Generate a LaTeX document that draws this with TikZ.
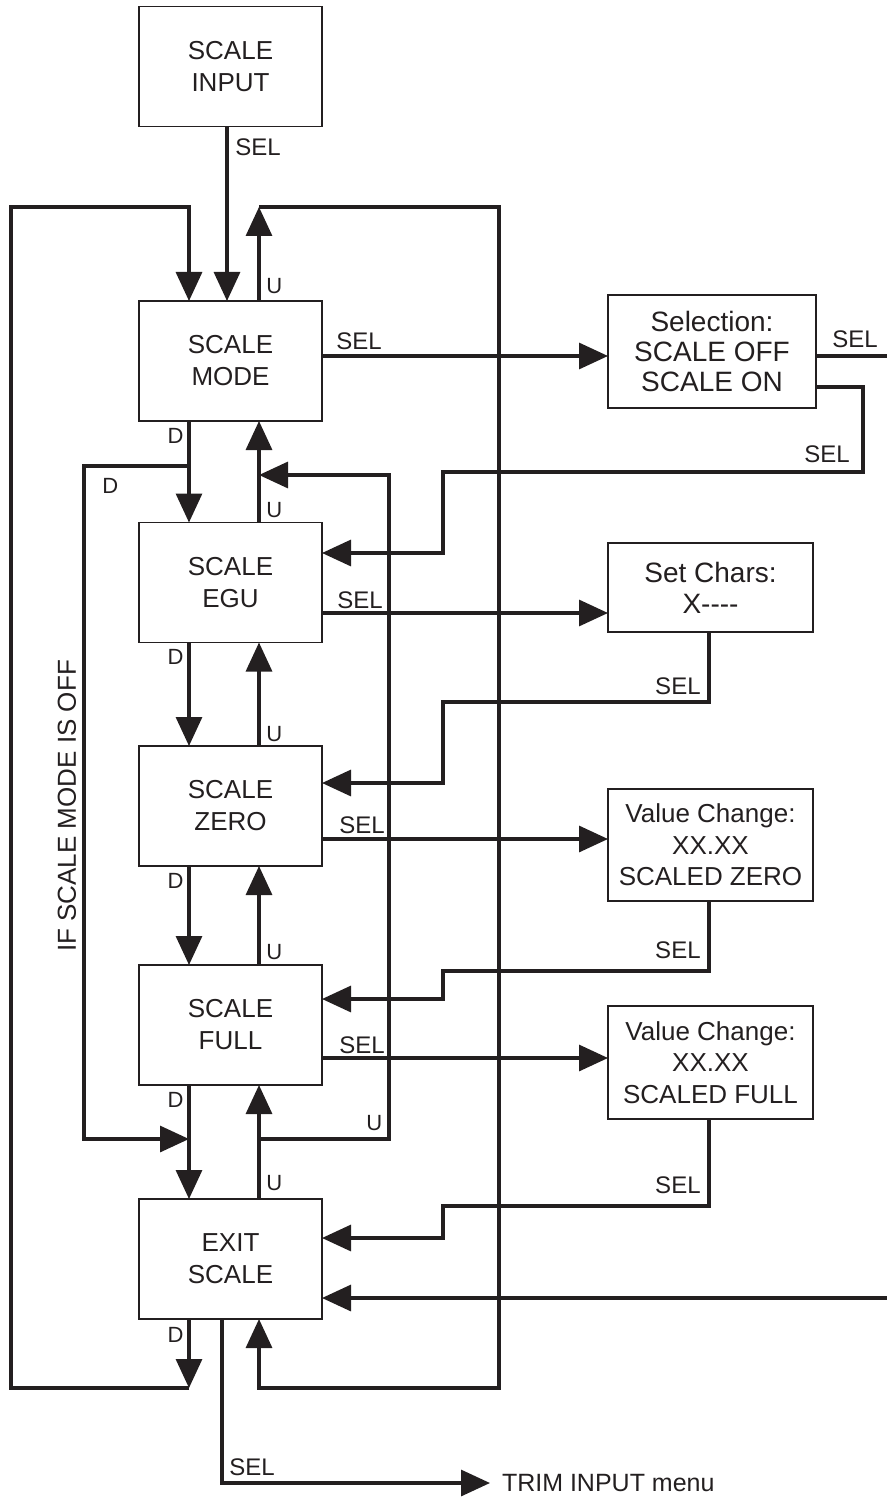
\documentclass[tikz,border=0pt]{standalone}
\usepackage{fontspec}
\setmainfont{Liberation Sans}
\usetikzlibrary{arrows.meta}
\definecolor{ink}{RGB}{35,31,32}
\begin{document}
\begin{tikzpicture}[x=0.5pt,y=-0.5pt, line join=miter,
  box/.style={draw=ink, line width=0.7pt, inner sep=0pt, outer sep=0pt, align=center, text=ink},
  mainbox/.style={box, minimum width=91.5pt, minimum height=60pt, font=\fontsize{13}{16}\selectfont},
  sidebox/.style={box, minimum width=102.5pt},
  conn/.style={draw=ink, line width=1.6pt},
  arr/.style={conn, -{Triangle[length=14.5pt,width=13pt]}},
  lbl/.style={text=ink, inner sep=0pt, font=\fontsize{12}{14}\selectfont},
  ud/.style={text=ink, inner sep=0pt, font=\fontsize{11}{13}\selectfont}]
\useasboundingbox (0,0) rectangle (887,1502);
% columns
\coordinate (cL) at (11,0);
\coordinate (cLL) at (84,0);
\coordinate (cD) at (189,0);
\coordinate (cS) at (222,0);
\coordinate (cI) at (227,0);
\coordinate (cU) at (259,0);
\coordinate (cR) at (389,0);
\coordinate (cJ) at (443,0);
\coordinate (cRR) at (499,0);
\coordinate (cB) at (709,0);
\coordinate (cSe) at (863,0);
\coordinate (cE) at (887,0);
% rows
\coordinate (rTop) at (0,207);
\coordinate (rBot) at (0,1388);
\coordinate (rL1) at (0,466);
\coordinate (rL2) at (0,1139);
\coordinate (rR1) at (0,475);
\coordinate (rM) at (0,356);
\coordinate (rSr) at (0,387);
\coordinate (rSd) at (0,472);
\coordinate (rEgu) at (0,553);
\coordinate (rEs) at (0,613);
\coordinate (rCh) at (0,702);
\coordinate (rZin) at (0,783);
\coordinate (rZs) at (0,839);
\coordinate (rVz) at (0,971);
\coordinate (rFin) at (0,999);
\coordinate (rFs) at (0,1058);
\coordinate (rVf) at (0,1206);
\coordinate (rEin) at (0,1238);
\coordinate (rEin2) at (0,1298);
\coordinate (rTrim) at (0,1483);
% main boxes
\node[mainbox] (inp) at (230.5,66.5) {SCALE\\INPUT};
\node[mainbox] (mode) at (230.5,361) {SCALE\\MODE};
\node[mainbox] (egu) at (230.5,582.5) {SCALE\\EGU};
\node[mainbox] (zero) at (230.5,806) {SCALE\\ZERO};
\node[mainbox] (full) at (230.5,1025) {SCALE\\FULL};
\node[mainbox] (exit) at (230.5,1259) {EXIT\\SCALE};
% side boxes
\node[box, minimum width=104pt, minimum height=56.5pt, font=\fontsize{14}{15}\selectfont] (selb) at (712,351.5) {Selection:\\SCALE OFF\\SCALE ON};
\node[sidebox, minimum height=44.5pt, font=\fontsize{14}{15.5}\selectfont] (chars) at (710.5,587.5) {Set Chars:\\X{-}{-}{-}{-}};
\node[sidebox, minimum height=56pt, font=\fontsize{13}{15.75}\selectfont] (vz) at (710.5,845) {Value Change:\\XX.XX\\SCALED ZERO};
\node[sidebox, minimum height=56.5pt, font=\fontsize{13}{15.75}\selectfont] (vf) at (710.5,1062.5) {Value Change:\\XX.XX\\SCALED FULL};
\node[text=ink, anchor=west, inner sep=0pt, outer xsep=6pt, font=\fontsize{12.5}{14}\selectfont] (trim) at (490,1483) {TRIM INPUT menu};
% input
\draw[arr] (inp.south -| cI) -- (mode.north -| cI);
% outer left loop
\draw[arr] (exit.south -| cD) -- (cD |- rBot);
\draw[arr] (cD |- rBot) -- (cL |- rBot) -- (cL |- rTop) -- (cD |- rTop) -- (mode.north -| cD);
% outer right loop
\draw[arr] (mode.north -| cU) -- (cU |- rTop);
\draw[arr] (cU |- rTop) -- (cRR |- rTop) -- (cRR |- rBot) -- (cU |- rBot) -- (exit.south -| cU);
% D arrows
\draw[arr] (mode.south -| cD) -- (egu.north -| cD);
\draw[arr] (egu.south -| cD) -- (zero.north -| cD);
\draw[arr] (zero.south -| cD) -- (full.north -| cD);
\draw[arr] (full.south -| cD) -- (exit.north -| cD);
% U arrows
\draw[arr] (egu.north -| cU) -- (mode.south -| cU);
\draw[arr] (zero.north -| cU) -- (egu.south -| cU);
\draw[arr] (full.north -| cU) -- (zero.south -| cU);
\draw[arr] (exit.north -| cU) -- (full.south -| cU);
% inner loops
\draw[arr] (cD |- rL1) -- (cLL |- rL1) -- (cLL |- rL2) -- (cD |- rL2);
\draw[arr] (cU |- rL2) -- (cR |- rL2) -- (cR |- rR1) -- (cU |- rR1);
% SEL connections
\draw[arr] (mode.east |- rM) -- (selb.west |- rM);
\draw[conn] (selb.east |- rM) -- (cE |- rM);
\draw[arr] (selb.east |- rSr) -- (cSe |- rSr) -- (cSe |- rSd) -- (cJ |- rSd) -- (cJ |- rEgu) -- (egu.east |- rEgu);
\draw[arr] (egu.east |- rEs) -- (chars.west |- rEs);
\draw[arr] (chars.south -| cB) -- (cB |- rCh) -- (cJ |- rCh) -- (cJ |- rZin) -- (zero.east |- rZin);
\draw[arr] (zero.east |- rZs) -- (vz.west |- rZs);
\draw[arr] (vz.south -| cB) -- (cB |- rVz) -- (cJ |- rVz) -- (cJ |- rFin) -- (full.east |- rFin);
\draw[arr] (full.east |- rFs) -- (vf.west |- rFs);
\draw[arr] (vf.south -| cB) -- (cB |- rVf) -- (cJ |- rVf) -- (cJ |- rEin) -- (exit.east |- rEin);
\draw[arr] (cE |- rEin2) -- (exit.east |- rEin2);
\draw[arr] (exit.south -| cS) -- (cS |- rTrim) -- (trim.west);
% SEL labels
\node[lbl, anchor=base west] (s0) at (235,156) {SEL};
\node[lbl, anchor=base west] (s1) at (336,350) {SEL};
\node[lbl, anchor=base west] (s2) at (832,348) {SEL};
\node[lbl, anchor=base west] (s3) at (804,462) {SEL};
\node[lbl, anchor=base west] (s4) at (337,608) {SEL};
\node[lbl, anchor=base east] (s5) at (701,694) {SEL};
\node[lbl, anchor=base west] (s6) at (339,833) {SEL};
\node[lbl, anchor=base east] (s7) at (701,958) {SEL};
\node[lbl, anchor=base west] (s8) at (339,1053) {SEL};
\node[lbl, anchor=base east] (s9) at (701,1193) {SEL};
\node[lbl, anchor=base west] (s10) at (229,1475) {SEL};
% U labels
\node[ud, anchor=base west] (u1) at (266,294) {U};
\node[ud, anchor=base west] (u2) at (266,517) {U};
\node[ud, anchor=base west] (u3) at (266,741) {U};
\node[ud, anchor=base west] (u4) at (266,959) {U};
\node[ud, anchor=base west] (u5) at (266,1190) {U};
\node[ud, anchor=base west] (u6) at (366,1130) {U};
% D labels
\node[ud, anchor=base east] (d1) at (184,444) {D};
\node[ud, anchor=base east] (d2) at (184,664) {D};
\node[ud, anchor=base east] (d3) at (184,888) {D};
\node[ud, anchor=base east] (d4) at (184,1107) {D};
\node[ud, anchor=base east] (d5) at (184,1342) {D};
\node[ud, anchor=base west] (d6) at (102,493) {D};
% side text
\node[lbl, rotate=90, font=\fontsize{13}{15}\selectfont] (off) at (67,806) {IF SCALE MODE IS OFF};
\end{tikzpicture}
\end{document}
